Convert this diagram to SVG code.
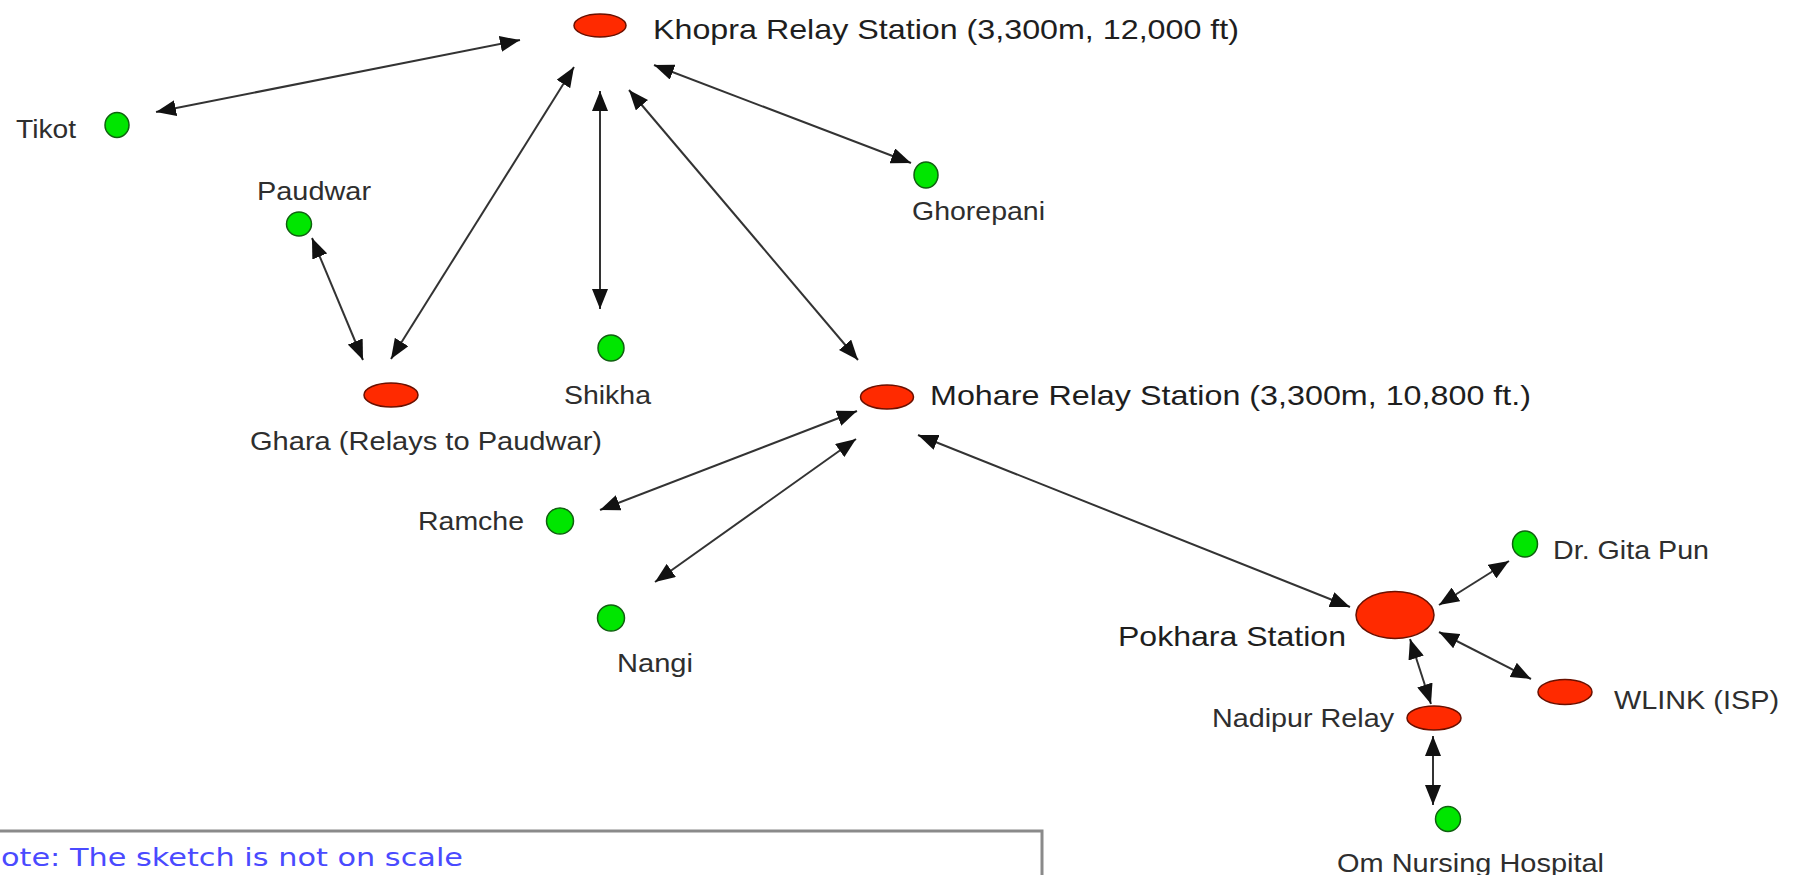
<svg xmlns="http://www.w3.org/2000/svg" width="1797" height="875" viewBox="0 0 1797 875">
<defs>
<marker id="ah" viewBox="0 0 20 16" refX="20" refY="8" markerWidth="20" markerHeight="16" markerUnits="userSpaceOnUse" orient="auto-start-reverse">
<path d="M0,0 L20,8 L0,16 z" fill="#111"/>
</marker>
<style>
.red{fill:#ff2a00;stroke:#6a1000;stroke-width:1.5}
.grn{fill:#00e600;stroke:#106010;stroke-width:1.5}
.lbl{font-family:"Liberation Sans",Arial,sans-serif;font-size:25px;fill:#2e2e2e}
.big{font-family:"Liberation Sans",Arial,sans-serif;font-size:28px;fill:#1e1e1e}
.con line{stroke:#333;stroke-width:2;marker-start:url(#ah);marker-end:url(#ah)}
.note{font-family:"DejaVu Sans",Tahoma,sans-serif;font-size:24px;fill:#4a4aff}
</style>
</defs>
<rect width="1797" height="875" fill="#fff"/>
<g id="connectors" class="con">
<line x1="156" y1="112" x2="520" y2="40"/>
<line x1="654" y1="65" x2="911" y2="163"/>
<line x1="600" y1="91" x2="600" y2="309"/>
<line x1="574" y1="67" x2="391" y2="359"/>
<line x1="312" y1="238" x2="363" y2="360"/>
<line x1="629" y1="90" x2="858" y2="360"/>
<line x1="600" y1="510" x2="857" y2="411"/>
<line x1="655" y1="582" x2="856" y2="439"/>
<line x1="918" y1="435" x2="1350" y2="607"/>
<line x1="1509" y1="561" x2="1439" y2="605"/>
<line x1="1531" y1="679" x2="1439" y2="632"/>
<line x1="1431" y1="704" x2="1410" y2="639"/>
<line x1="1433" y1="736" x2="1433" y2="805"/>
</g>
<g id="khopra"><ellipse class="red" cx="600" cy="25.5" rx="26" ry="11.5"/><text class="big" x="653" y="39" textLength="586" lengthAdjust="spacingAndGlyphs">Khopra Relay Station (3,300m, 12,000 ft)</text></g>
<g id="tikot"><ellipse class="grn" cx="117" cy="125" rx="12" ry="12.5"/><text class="lbl" x="16" y="138" textLength="60" lengthAdjust="spacingAndGlyphs">Tikot</text></g>
<g id="paudwar"><ellipse class="grn" cx="299" cy="224" rx="12.5" ry="12"/><text class="lbl" x="257" y="200" textLength="114" lengthAdjust="spacingAndGlyphs">Paudwar</text></g>
<g id="ghorepani"><ellipse class="grn" cx="926" cy="175" rx="12" ry="13"/><text class="lbl" x="912" y="220" textLength="133" lengthAdjust="spacingAndGlyphs">Ghorepani</text></g>
<g id="shikha"><ellipse class="grn" cx="611" cy="348" rx="13" ry="13"/><text class="lbl" x="564" y="404" textLength="87" lengthAdjust="spacingAndGlyphs">Shikha</text></g>
<g id="ghara"><ellipse class="red" cx="391" cy="395" rx="27" ry="12"/><text class="lbl" x="250" y="450" textLength="352" lengthAdjust="spacingAndGlyphs">Ghara (Relays to Paudwar)</text></g>
<g id="mohare"><ellipse class="red" cx="887" cy="397" rx="26.5" ry="12"/><text class="big" x="930" y="405" textLength="601" lengthAdjust="spacingAndGlyphs">Mohare Relay Station (3,300m, 10,800 ft.)</text></g>
<g id="ramche"><ellipse class="grn" cx="560" cy="521" rx="13.5" ry="13"/><text class="lbl" x="418" y="530" textLength="106" lengthAdjust="spacingAndGlyphs">Ramche</text></g>
<g id="nangi"><ellipse class="grn" cx="611" cy="618" rx="13.5" ry="13"/><text class="lbl" x="617" y="672" textLength="76" lengthAdjust="spacingAndGlyphs">Nangi</text></g>
<g id="pokhara"><ellipse class="red" cx="1395" cy="615" rx="39" ry="23.5"/><text class="big" x="1118" y="646" textLength="228" lengthAdjust="spacingAndGlyphs">Pokhara Station</text></g>
<g id="gitapun"><ellipse class="grn" cx="1525" cy="544" rx="12.5" ry="13"/><text class="lbl" x="1553" y="559" textLength="156" lengthAdjust="spacingAndGlyphs">Dr. Gita Pun</text></g>
<g id="wlink"><ellipse class="red" cx="1565" cy="692" rx="27" ry="12.5"/><text class="lbl" x="1614" y="709" textLength="165" lengthAdjust="spacingAndGlyphs">WLINK (ISP)</text></g>
<g id="nadipur"><ellipse class="red" cx="1434" cy="718" rx="27" ry="12"/><text class="lbl" x="1212" y="727" textLength="182" lengthAdjust="spacingAndGlyphs">Nadipur Relay</text></g>
<g id="omnursing"><ellipse class="grn" cx="1448" cy="819" rx="12.5" ry="12.5"/><text class="lbl" x="1337" y="872" textLength="267" lengthAdjust="spacingAndGlyphs">Om Nursing Hospital</text></g>
<g id="note"><rect x="-6" y="831" width="1048" height="60" fill="#fff" stroke="#8a8a8a" stroke-width="3"/><text class="note" x="1" y="866" textLength="462" lengthAdjust="spacingAndGlyphs">ote: The sketch is not on scale</text></g>
</svg>
